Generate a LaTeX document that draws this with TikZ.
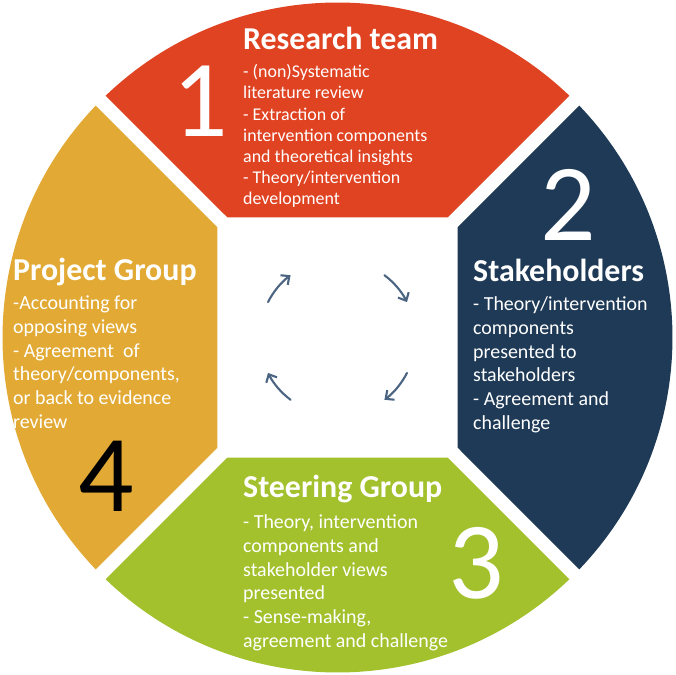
\documentclass[tikz,border=0pt]{standalone}
\usepackage{fontspec}
\setmainfont{Carlito}
\usetikzlibrary{arrows.meta}
\definecolor{segred}{HTML}{E04322}
\definecolor{segnavy}{HTML}{1F3A56}
\definecolor{seggreen}{HTML}{A3C12D}
\definecolor{segyellow}{HTML}{E2AA35}
\definecolor{arrowc}{HTML}{4B6482}
\tikzset{
  title/.style={anchor=base west,inner sep=0pt,text=white,font=\fontsize{32}{36}\selectfont\bfseries},
  body/.style={anchor=base west,inner sep=0pt,text=white,align=left,font=\fontsize{20}{23.7}\selectfont},
  bodysmall/.style={anchor=base west,inner sep=0pt,text=white,align=left,font=\fontsize{18}{21.3}\selectfont},
  digit/.style={anchor=center,inner sep=0pt,font=\fontsize{110}{112}\selectfont},
  cyc/.style={draw=arrowc,line width=2.1bp,line cap=round,-{Straight Barb[length=6.5bp,width=12bp,line width=2.1bp]}}
}
\begin{document}
\begin{tikzpicture}[x=1bp,y=1bp]
\useasboundingbox (-337.5,-337.5) rectangle (337.5,337.5);
% segments
\fill[segred] (-110,120) -- (133.8:335) arc[start angle=133.8,end angle=46.2,radius=335] -- (110,120) -- cycle;
\fill[segnavy] (120,110) -- (43.8:335) arc[start angle=43.8,end angle=-43.8,radius=335] -- (120,-110) -- cycle;
\fill[seggreen] (110,-120) -- (-46.2:335) arc[start angle=-46.2,end angle=-133.8,radius=335] -- (-110,-120) -- cycle;
\fill[segyellow] (-120,-110) -- (-136.2:335) arc[start angle=-136.2,end angle=-223.8,radius=335] -- (-120,110) -- cycle;
% digits
\node[digit,text=white] (d1) at (-137.5,236) {1};
\node[digit,text=white] (d2) at (230.5,133) {2};
\node[digit,text=white] (d3) at (138.5,-225.5) {3};
\node[digit,text=black] (d4) at (-231.5,-138.5) {4};
% titles
\node[title] (t1) at (-94.5,287.5) {Research team};
\node[title] (t2) at (135.5,55.5) {Stakeholders};
\node[title] (t3) at (-94.5,-159.5) {Steering Group};
\node[title] (t4) at (-324.5,56.5) {Project Group};
% bodies (anchored at the baseline of the last line)
\node[bodysmall] (b1) at (-94.5,132.5) {- (non)Systematic\\literature review\\- Extraction of\\intervention components\\and theoretical insights\\- Theory/intervention\\development};
\node[body] (b2) at (135.5,-91.5) {- Theory/intervention\\components\\presented to\\stakeholders\\- Agreement and\\challenge};
\node[body] (b3) at (-94.5,-309.5) {- Theory, intervention\\components and\\stakeholder views\\presented\\- Sense-making,\\agreement and challenge};
\node[body] (b4) at (-324.5,-90.5) {-Accounting for\\opposing views\\- Agreement\ \ of\\theory/components,\\or back to evidence\\review};
% cycle arrows
\coordinate (a1) at (153:78);
\coordinate (a2) at (53:78);
\coordinate (a3) at (-27:78);
\coordinate (a4) at (-127:78);
\draw[cyc] (a1) arc[start angle=153,end angle=127,radius=78];
\draw[cyc] (a2) arc[start angle=53,end angle=27,radius=78];
\draw[cyc] (a3) arc[start angle=-27,end angle=-53,radius=78];
\draw[cyc] (a4) arc[start angle=-127,end angle=-153,radius=78];
\end{tikzpicture}
\end{document}
